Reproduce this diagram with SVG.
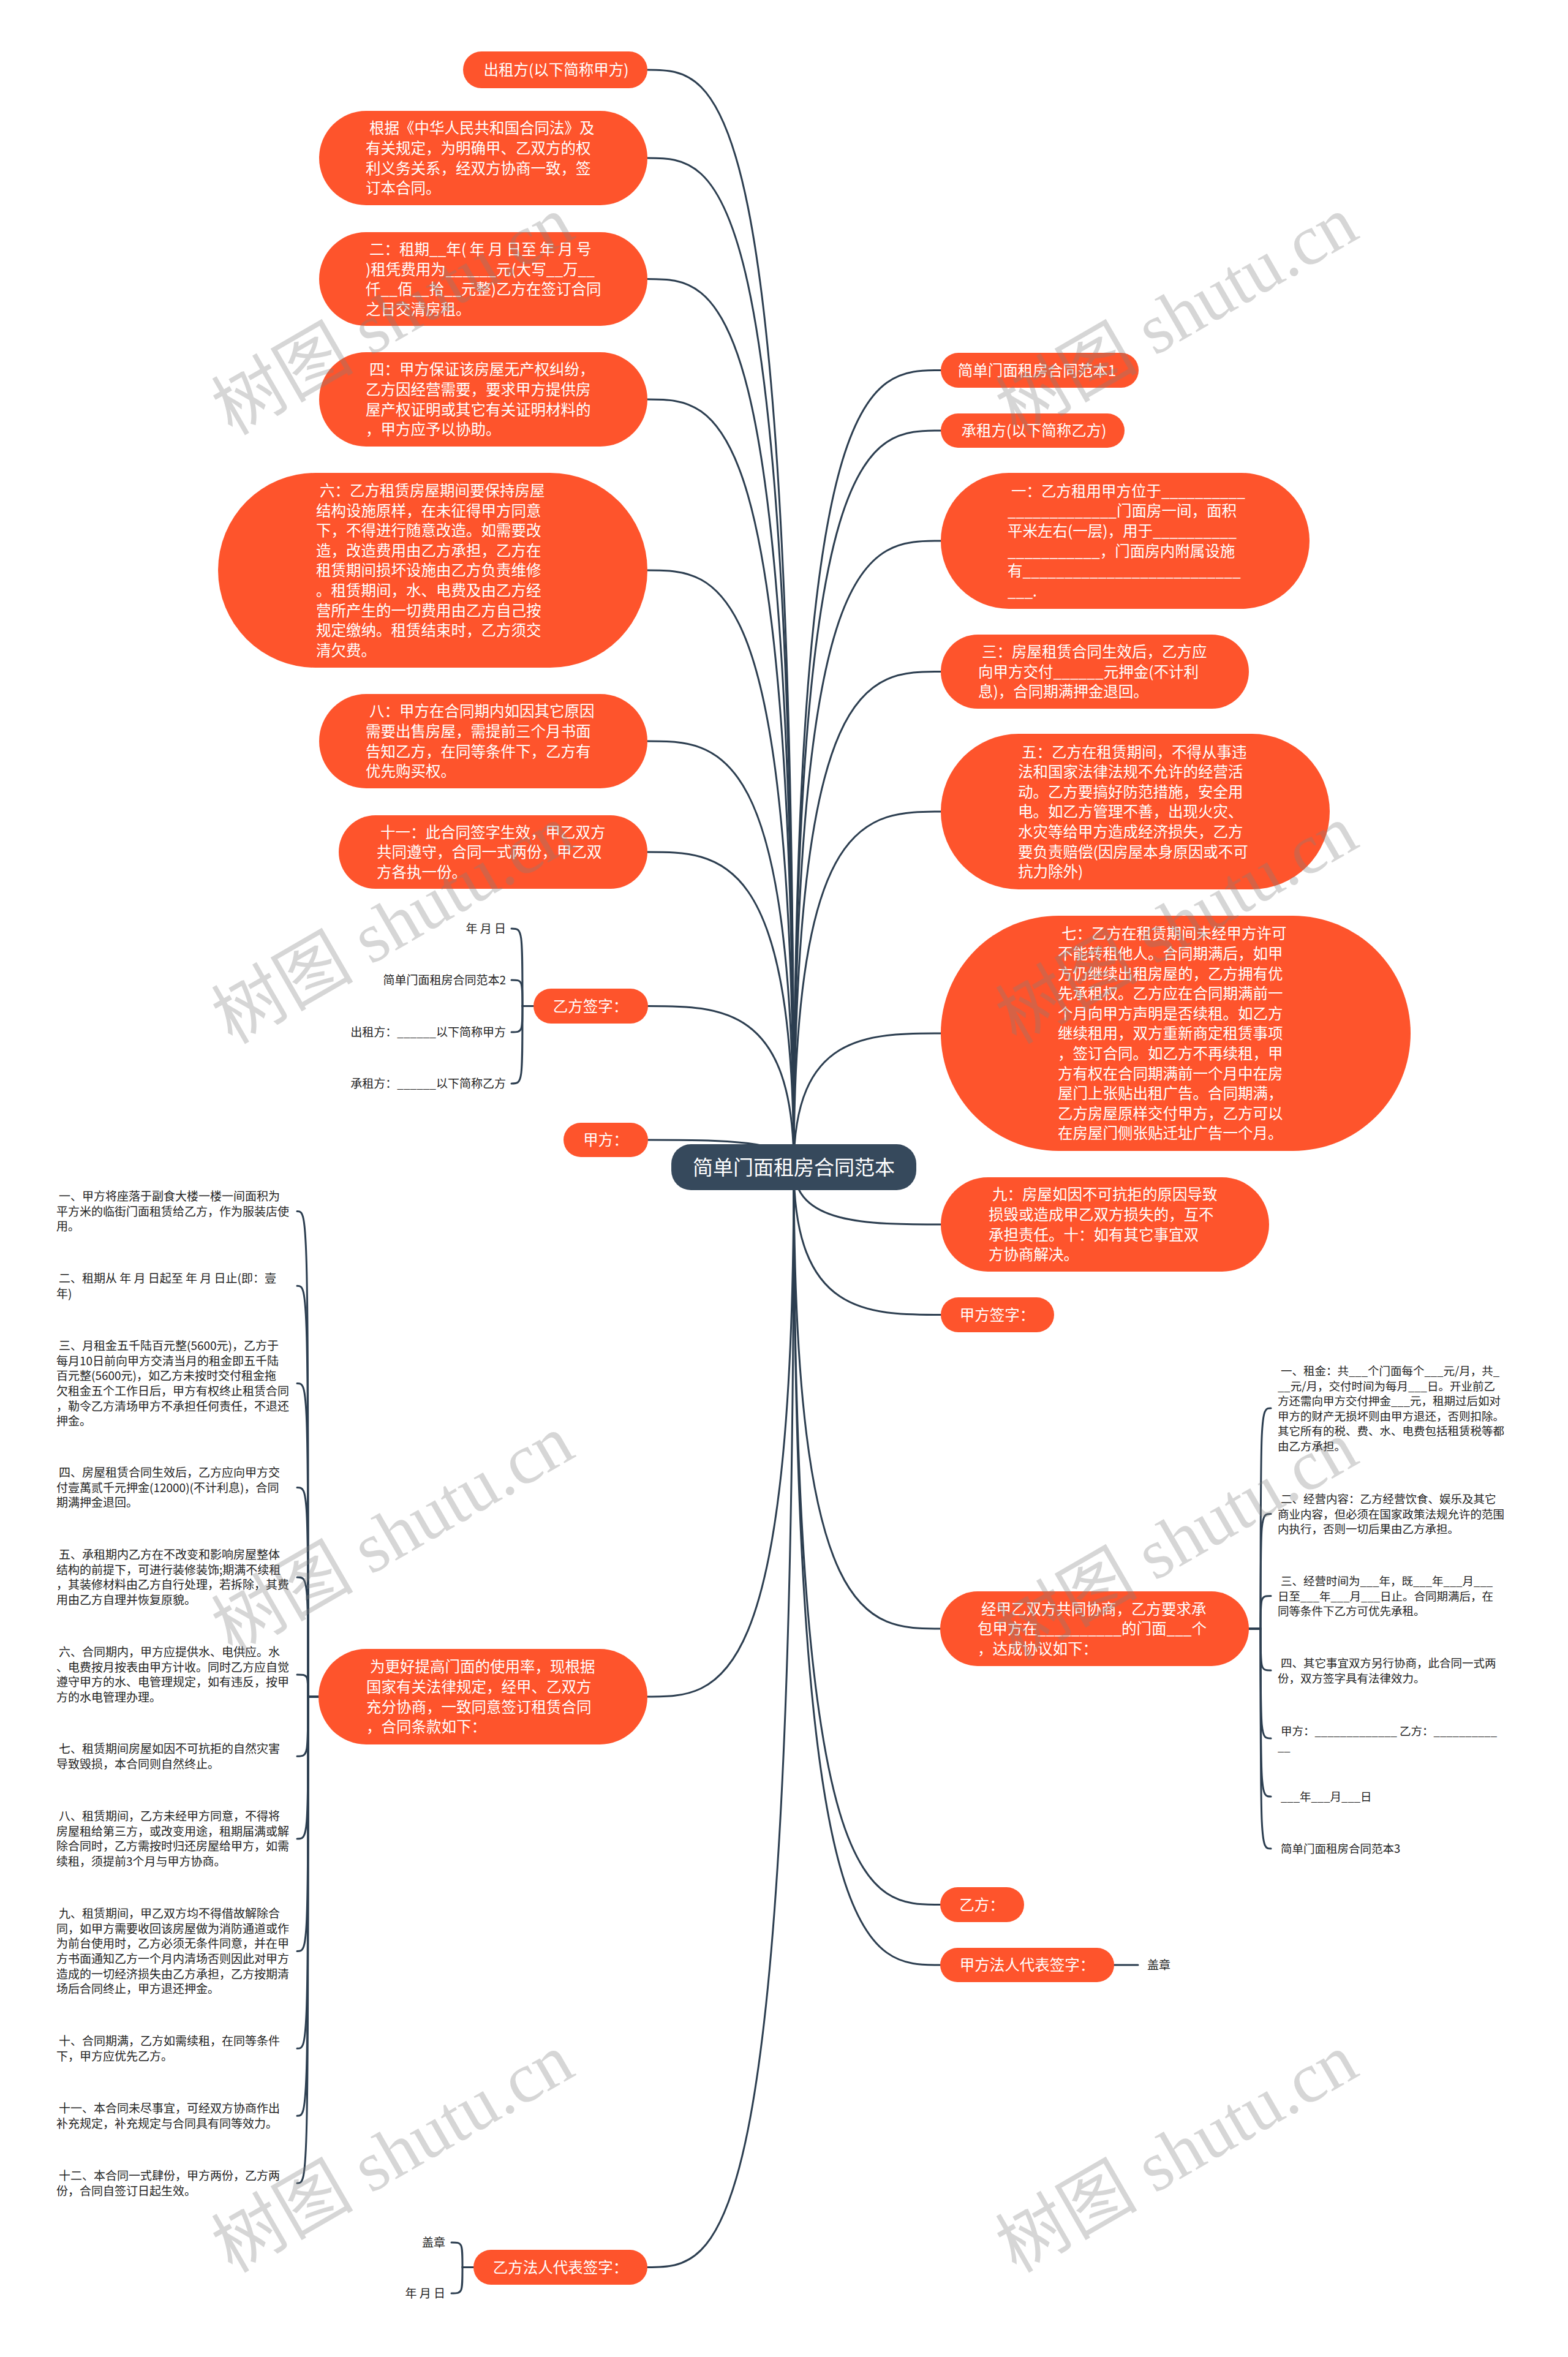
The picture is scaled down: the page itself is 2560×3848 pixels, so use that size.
<svg xmlns="http://www.w3.org/2000/svg" width="2560" height="3848" viewBox="0 0 2560 3848">
<style>
.o{fill:#fe542c}
.c{fill:#36495c}
.w{fill:#ffffff;font-family:"Noto Sans CJK SC","Noto Sans",sans-serif;font-size:24.5px}
.m{text-anchor:middle}
.r{text-anchor:end}
.k{fill:#222222;font-family:"Noto Sans CJK SC","Noto Sans",sans-serif;font-size:19px}
.s{font-size:18.5px}
.ln{fill:none;stroke:#2c3e50;stroke-width:3;stroke-linecap:round}
.wmk{fill:#808080;fill-opacity:0.32;font-family:"Liberation Serif","Noto Sans CJK SC",serif;font-size:116px}
</style>
<rect x="0" y="0" width="2560" height="3848" fill="#ffffff"/>
<g id="connectors">
<path class="ln" d="M1296,1905 C1296,114 1176,114 1057,114"/>
<path class="ln" d="M1296,1905 C1296,258 1176,258 1057,258"/>
<path class="ln" d="M1296,1905 C1296,455.5 1176,455.5 1057,455.5"/>
<path class="ln" d="M1296,1905 C1296,652 1176,652 1057,652"/>
<path class="ln" d="M1296,1905 C1296,931 1176,931 1057,931"/>
<path class="ln" d="M1296,1905 C1296,1210 1176,1210 1057,1210"/>
<path class="ln" d="M1296,1905 C1296,1391 1176,1391 1057,1391"/>
<path class="ln" d="M1296,1905 C1296,1642.5 1176,1642.5 1058,1642.5"/>
<path class="ln" d="M1296,1905 C1296,1861 1176,1861 1058,1861"/>
<path class="ln" d="M1296,1905 C1296,2770 1176,2770 1057,2770"/>
<path class="ln" d="M1296,1905 C1296,3701.5 1176,3701.5 1057,3701.5"/>
<path class="ln" d="M1296,1905 C1296,604.5 1416,604.5 1536,604.5"/>
<path class="ln" d="M1296,1905 C1296,703 1416,703 1536,703"/>
<path class="ln" d="M1296,1905 C1296,883 1416,883 1536,883"/>
<path class="ln" d="M1296,1905 C1296,1096.5 1416,1096.5 1536,1096.5"/>
<path class="ln" d="M1296,1905 C1296,1325 1416,1325 1536,1325"/>
<path class="ln" d="M1296,1905 C1296,1687 1416,1687 1536,1687"/>
<path class="ln" d="M1296,1905 C1296,1999 1416,1999 1536,1999"/>
<path class="ln" d="M1296,1905 C1296,2146.5 1416,2146.5 1536,2146.5"/>
<path class="ln" d="M1296,1905 C1296,2659 1416,2659 1535,2659"/>
<path class="ln" d="M1296,1905 C1296,3109.5 1416,3109.5 1535,3109.5"/>
<path class="ln" d="M1296,1905 C1296,3208 1416,3208 1535,3208"/>
<path class="ln" d="M871,1642.5 H853 C853,1516 853,1516 835,1516"/>
<path class="ln" d="M871,1642.5 H853 C853,1600 853,1600 835,1600"/>
<path class="ln" d="M871,1642.5 H853 C853,1685 853,1685 835,1685"/>
<path class="ln" d="M871,1642.5 H853 C853,1769 853,1769 835,1769"/>
<path class="ln" d="M520,2770 H503 C503,1977.6 503,1977.6 485,1977.6"/>
<path class="ln" d="M520,2770 H503 C503,2099.3 503,2099.3 485,2099.3"/>
<path class="ln" d="M520,2770 H503 C503,2258.5 503,2258.5 485,2258.5"/>
<path class="ln" d="M520,2770 H503 C503,2428.6 503,2428.6 485,2428.6"/>
<path class="ln" d="M520,2770 H503 C503,2574.9 503,2574.9 485,2574.9"/>
<path class="ln" d="M520,2770 H503 C503,2733.9 503,2733.9 485,2733.9"/>
<path class="ln" d="M520,2770 H503 C503,2867.3 503,2867.3 485,2867.3"/>
<path class="ln" d="M520,2770 H503 C503,3001.9 503,3001.9 485,3001.9"/>
<path class="ln" d="M520,2770 H503 C503,3185.5 503,3185.5 485,3185.5"/>
<path class="ln" d="M520,2770 H503 C503,3344.3 503,3344.3 485,3344.3"/>
<path class="ln" d="M520,2770 H503 C503,3454.3 503,3454.3 485,3454.3"/>
<path class="ln" d="M520,2770 H503 C503,3564.3 503,3564.3 485,3564.3"/>
<path class="ln" d="M2039,2659 H2058 C2058,2299 2058,2299 2075,2299"/>
<path class="ln" d="M2039,2659 H2058 C2058,2471.5 2058,2471.5 2075,2471.5"/>
<path class="ln" d="M2039,2659 H2058 C2058,2605.5 2058,2605.5 2075,2605.5"/>
<path class="ln" d="M2039,2659 H2058 C2058,2727 2058,2727 2075,2727"/>
<path class="ln" d="M2039,2659 H2058 C2058,2838 2058,2838 2075,2838"/>
<path class="ln" d="M2039,2659 H2058 C2058,2933 2058,2933 2075,2933"/>
<path class="ln" d="M2039,2659 H2058 C2058,3018 2058,3018 2075,3018"/>
<path class="ln" d="M1819,3208 H1858"/>
<path class="ln" d="M773,3701.5 H755 C755,3661 755,3661 737,3661"/>
<path class="ln" d="M773,3701.5 H755 C755,3744 755,3744 737,3744"/>
</g>
<g id="n-root">
<rect class="c" x="1096" y="1868" width="400" height="75" rx="32"/>
<text x="1296" y="1918" class="w m" style="font-size:33px">简单门面租房合同范本</text>
</g>
<g id="n1">
<rect class="o" x="756" y="84" width="301" height="60" rx="30"/>
<text x="908" y="123.3" class="w m">出租方(以下简称甲方)</text>
</g>
<g id="n2">
<rect class="o" x="521" y="181" width="536" height="154" rx="77"/>
<text class="w"><tspan x="603" y="218.4">根据《中华人民共和国合同法》及</tspan><tspan x="597" y="251">有关规定，为明确甲、乙双方的权</tspan><tspan x="597" y="283.6">利义务关系，经双方协商一致，签</tspan><tspan x="597" y="316.2">订本合同。</tspan></text>
</g>
<g id="n3">
<rect class="o" x="521" y="379" width="536" height="153" rx="76.5"/>
<text class="w"><tspan x="603" y="415.9">二：租期__年( 年 月 日至 年 月 号</tspan><tspan x="597" y="448.5">)租凭费用为______元(大写__万__</tspan><tspan x="597" y="481.1">仟__佰__拾__元整)乙方在签订合同</tspan><tspan x="597" y="513.7">之日交清房租。</tspan></text>
</g>
<g id="n4">
<rect class="o" x="521" y="575" width="536" height="154" rx="77"/>
<text class="w"><tspan x="603" y="612.4">四：甲方保证该房屋无产权纠纷，</tspan><tspan x="597" y="645">乙方因经营需要，要求甲方提供房</tspan><tspan x="597" y="677.6">屋产权证明或其它有关证明材料的</tspan><tspan x="597" y="710.2">，甲方应予以协助。</tspan></text>
</g>
<g id="n5">
<rect class="o" x="356" y="772" width="701" height="318" rx="159"/>
<text class="w"><tspan x="522" y="809.9">六：乙方租赁房屋期间要保持房屋</tspan><tspan x="516" y="842.5">结构设施原样，在未征得甲方同意</tspan><tspan x="516" y="875.1">下，不得进行随意改造。如需要改</tspan><tspan x="516" y="907.7">造，改造费用由乙方承担，乙方在</tspan><tspan x="516" y="940.3">租赁期间损坏设施由乙方负责维修</tspan><tspan x="516" y="972.9">。租赁期间，水、电费及由乙方经</tspan><tspan x="516" y="1005.5">营所产生的一切费用由乙方自己按</tspan><tspan x="516" y="1038.1">规定缴纳。租赁结束时，乙方须交</tspan><tspan x="516" y="1070.7">清欠费。</tspan></text>
</g>
<g id="n6">
<rect class="o" x="521" y="1133" width="536" height="154" rx="77"/>
<text class="w"><tspan x="603" y="1170.4">八：甲方在合同期内如因其它原因</tspan><tspan x="597" y="1203">需要出售房屋，需提前三个月书面</tspan><tspan x="597" y="1235.6">告知乙方，在同等条件下，乙方有</tspan><tspan x="597" y="1268.2">优先购买权。</tspan></text>
</g>
<g id="n7">
<rect class="o" x="553" y="1331" width="504" height="120" rx="60"/>
<text class="w"><tspan x="621" y="1367.7">十一：此合同签字生效，甲乙双方</tspan><tspan x="615" y="1400.3">共同遵守，合同一式两份，甲乙双</tspan><tspan x="615" y="1432.9">方各执一份。</tspan></text>
</g>
<g id="n8">
<rect class="o" x="871" y="1614" width="187" height="57" rx="28.5"/>
<text x="964" y="1651.8" class="w m">乙方签字：</text>
</g>
<g id="n8-children">
<text x="826" y="1523" class="k r">年 月 日</text>
<text x="826" y="1607" class="k r">简单门面租房合同范本2</text>
<text x="826" y="1692" class="k r">出租方：______以下简称甲方</text>
<text x="826" y="1776" class="k r">承租方：______以下简称乙方</text>
</g>
<g id="n9">
<rect class="o" x="920" y="1833" width="138" height="56" rx="28"/>
<text x="989" y="1870.3" class="w m">甲方：</text>
</g>
<g id="n10">
<rect class="o" x="1536" y="576" width="323" height="57" rx="28.5"/>
<text x="1693" y="613.8" class="w m">简单门面租房合同范本1</text>
</g>
<g id="n11">
<rect class="o" x="1536" y="675" width="300" height="56" rx="28"/>
<text x="1688" y="712.3" class="w m">承租方(以下简称乙方)</text>
</g>
<g id="n12">
<rect class="o" x="1536" y="772" width="602" height="222" rx="111"/>
<text class="w"><tspan x="1651" y="810.8">一：乙方租用甲方位于__________</tspan><tspan x="1645" y="843.4">_____________门面房一间，面积</tspan><tspan x="1645" y="876">平米左右(一层)，用于__________</tspan><tspan x="1645" y="908.6">___________，门面房内附属设施</tspan><tspan x="1645" y="941.2">有__________________________</tspan><tspan x="1645" y="973.8">___.</tspan></text>
</g>
<g id="n13">
<rect class="o" x="1536" y="1036" width="503" height="121" rx="60.5"/>
<text class="w"><tspan x="1603" y="1073.2">三：房屋租赁合同生效后，乙方应</tspan><tspan x="1597" y="1105.8">向甲方交付______元押金(不计利</tspan><tspan x="1597" y="1138.4">息)，合同期满押金退回。</tspan></text>
</g>
<g id="n14">
<rect class="o" x="1536" y="1198" width="635" height="254" rx="127"/>
<text class="w"><tspan x="1668" y="1236.5">五：乙方在租赁期间，不得从事违</tspan><tspan x="1662" y="1269.1">法和国家法律法规不允许的经营活</tspan><tspan x="1662" y="1301.7">动。乙方要搞好防范措施，安全用</tspan><tspan x="1662" y="1334.3">电。如乙方管理不善，出现火灾、</tspan><tspan x="1662" y="1366.9">水灾等给甲方造成经济损失，乙方</tspan><tspan x="1662" y="1399.5">要负责赔偿(因房屋本身原因或不可</tspan><tspan x="1662" y="1432.1">抗力除外)</tspan></text>
</g>
<g id="n15">
<rect class="o" x="1536" y="1495" width="767" height="384" rx="192"/>
<text class="w"><tspan x="1733" y="1533.3">七：乙方在租赁期间未经甲方许可</tspan><tspan x="1727" y="1565.9">不能转租他人。合同期满后，如甲</tspan><tspan x="1727" y="1598.5">方仍继续出租房屋的，乙方拥有优</tspan><tspan x="1727" y="1631.1">先承租权。乙方应在合同期满前一</tspan><tspan x="1727" y="1663.7">个月向甲方声明是否续租。如乙方</tspan><tspan x="1727" y="1696.3">继续租用，双方重新商定租赁事项</tspan><tspan x="1727" y="1728.9">，签订合同。如乙方不再续租，甲</tspan><tspan x="1727" y="1761.5">方有权在合同期满前一个月中在房</tspan><tspan x="1727" y="1794.1">屋门上张贴出租广告。合同期满，</tspan><tspan x="1727" y="1826.7">乙方房屋原样交付甲方，乙方可以</tspan><tspan x="1727" y="1859.3">在房屋门侧张贴迁址广告一个月。</tspan></text>
</g>
<g id="n16">
<rect class="o" x="1536" y="1922" width="536" height="154" rx="77"/>
<text class="w"><tspan x="1620" y="1959.4">九：房屋如因不可抗拒的原因导致</tspan><tspan x="1614" y="1992">损毁或造成甲乙双方损失的，互不</tspan><tspan x="1614" y="2024.6">承担责任。十：如有其它事宜双</tspan><tspan x="1614" y="2057.2">方协商解决。</tspan></text>
</g>
<g id="n17">
<rect class="o" x="1536" y="2118" width="185" height="57" rx="28.5"/>
<text x="1628" y="2155.8" class="w m">甲方签字：</text>
</g>
<g id="n18">
<rect class="o" x="1535" y="2598" width="504" height="122" rx="61"/>
<text class="w"><tspan x="1602" y="2635.7">经甲乙双方共同协商，乙方要求承</tspan><tspan x="1596" y="2668.3">包甲方在__________的门面___个</tspan><tspan x="1596" y="2700.9">，达成协议如下：</tspan></text>
</g>
<g id="n18-children">
<text class="k s"><tspan x="2091" y="2245">一、租金：共___个门面每个___元/月，共_</tspan><tspan x="2086" y="2269.5">__元/月，交付时间为每月___日。开业前乙</tspan><tspan x="2086" y="2294">方还需向甲方交付押金___元，租期过后如对</tspan><tspan x="2086" y="2318.5">甲方的财产无损坏则由甲方退还，否则扣除。</tspan><tspan x="2086" y="2343">其它所有的税、费、水、电费包括租赁税等都</tspan><tspan x="2086" y="2367.5">由乙方承担。</tspan></text>
<text class="k s"><tspan x="2091" y="2454">二、经营内容：乙方经营饮食、娱乐及其它</tspan><tspan x="2086" y="2478.5">商业内容，但必须在国家政策法规允许的范围</tspan><tspan x="2086" y="2503">内执行，否则一切后果由乙方承担。</tspan></text>
<text class="k s"><tspan x="2091" y="2588">三、经营时间为___年，既___年___月___</tspan><tspan x="2086" y="2612.5">日至___年___月___日止。合同期满后，在</tspan><tspan x="2086" y="2637">同等条件下乙方可优先承租。</tspan></text>
<text class="k s"><tspan x="2091" y="2722">四、其它事宜双方另行协商，此合同一式两</tspan><tspan x="2086" y="2746.5">份，双方签字具有法律效力。</tspan></text>
<text class="k s"><tspan x="2091" y="2833">甲方：_____________ 乙方：__________</tspan><tspan x="2086" y="2857.5">__</tspan></text>
<text class="k s" x="2091" y="2940">___年___月___日</text>
<text class="k s" x="2091" y="3025">简单门面租房合同范本3</text>
</g>
<g id="n19">
<rect class="o" x="1535" y="3081" width="137" height="57" rx="28.5"/>
<text x="1603" y="3118.8" class="w m">乙方：</text>
</g>
<g id="n20">
<rect class="o" x="1535" y="3180" width="284" height="56" rx="28"/>
<text x="1677" y="3217.3" class="w m">甲方法人代表签字：</text>
</g>
<g id="n20-child">
<text x="1873" y="3215" class="k">盖章</text>
</g>
<g id="n21">
<rect class="o" x="520" y="2692" width="537" height="156" rx="78"/>
<text class="w"><tspan x="604" y="2730.4">为更好提高门面的使用率，现根据</tspan><tspan x="598" y="2763">国家有关法律规定，经甲、乙双方</tspan><tspan x="598" y="2795.6">充分协商，一致同意签订租赁合同</tspan><tspan x="598" y="2828.2">，合同条款如下：</tspan></text>
</g>
<g id="n21-children">
<text class="k"><tspan x="96" y="1960.2">一、甲方将座落于副食大楼一楼一间面积为</tspan><tspan x="92" y="1984.8">平方米的临街门面租赁给乙方，作为服装店使</tspan><tspan x="92" y="2009.4">用。</tspan></text>
<text class="k"><tspan x="96" y="2094.2">二、租期从 年 月 日起至 年 月 日止(即：壹</tspan><tspan x="92" y="2118.8">年)</tspan></text>
<text class="k"><tspan x="96" y="2204.2">三、月租金五千陆百元整(5600元)，乙方于</tspan><tspan x="92" y="2228.8">每月10日前向甲方交清当月的租金即五千陆</tspan><tspan x="92" y="2253.4">百元整(5600元)，如乙方未按时交付租金拖</tspan><tspan x="92" y="2278">欠租金五个工作日后，甲方有权终止租赁合同</tspan><tspan x="92" y="2302.6">，勒令乙方清场甲方不承担任何责任，不退还</tspan><tspan x="92" y="2327.2">押金。</tspan></text>
<text class="k"><tspan x="96" y="2411.2">四、房屋租赁合同生效后，乙方应向甲方交</tspan><tspan x="92" y="2435.8">付壹萬贰千元押金(12000)(不计利息)，合同</tspan><tspan x="92" y="2460.4">期满押金退回。</tspan></text>
<text class="k"><tspan x="96" y="2545.2">五、承租期内乙方在不改变和影响房屋整体</tspan><tspan x="92" y="2569.8">结构的前提下，可进行装修装饰;期满不续租</tspan><tspan x="92" y="2594.4">，其装修材料由乙方自行处理，若拆除，其费</tspan><tspan x="92" y="2619">用由乙方自理并恢复原貌。</tspan></text>
<text class="k"><tspan x="96" y="2704.2">六、合同期内，甲方应提供水、电供应。水</tspan><tspan x="92" y="2728.8">、电费按月按表由甲方计收。同时乙方应自觉</tspan><tspan x="92" y="2753.4">遵守甲方的水、电管理规定，如有违反，按甲</tspan><tspan x="92" y="2778">方的水电管理办理。</tspan></text>
<text class="k"><tspan x="96" y="2862.2">七、租赁期间房屋如因不可抗拒的自然灾害</tspan><tspan x="92" y="2886.8">导致毁损，本合同则自然终止。</tspan></text>
<text class="k"><tspan x="96" y="2972.2">八、租赁期间，乙方未经甲方同意，不得将</tspan><tspan x="92" y="2996.8">房屋租给第三方，或改变用途，租期届满或解</tspan><tspan x="92" y="3021.4">除合同时，乙方需按时归还房屋给甲方，如需</tspan><tspan x="92" y="3046">续租，须提前3个月与甲方协商。</tspan></text>
<text class="k"><tspan x="96" y="3131.2">九、租赁期间，甲乙双方均不得借故解除合</tspan><tspan x="92" y="3155.8">同，如甲方需要收回该房屋做为消防通道或作</tspan><tspan x="92" y="3180.4">为前台使用时，乙方必须无条件同意，并在甲</tspan><tspan x="92" y="3205">方书面通知乙方一个月内清场否则因此对甲方</tspan><tspan x="92" y="3229.6">造成的一切经济损失由乙方承担，乙方按期清</tspan><tspan x="92" y="3254.2">场后合同终止，甲方退还押金。</tspan></text>
<text class="k"><tspan x="96" y="3339.2">十、合同期满，乙方如需续租，在同等条件</tspan><tspan x="92" y="3363.8">下，甲方应优先乙方。</tspan></text>
<text class="k"><tspan x="96" y="3449.2">十一、本合同未尽事宜，可经双方协商作出</tspan><tspan x="92" y="3473.8">补充规定，补充规定与合同具有同等效力。</tspan></text>
<text class="k"><tspan x="96" y="3559.2">十二、本合同一式肆份，甲方两份，乙方两</tspan><tspan x="92" y="3583.8">份，合同自签订日起生效。</tspan></text>
</g>
<g id="n22">
<rect class="o" x="773" y="3673" width="284" height="57" rx="28.5"/>
<text x="915" y="3710.8" class="w m">乙方法人代表签字：</text>
</g>
<g id="n22-children">
<text x="727" y="3668" class="k r">盖章</text>
<text x="727" y="3751" class="k r">年 月 日</text>
</g>
<g id="watermark">
<text class="wmk" transform="translate(379,712) rotate(-30)">树图 shutu.cn</text>
<text class="wmk" transform="translate(1659,712) rotate(-30)">树图 shutu.cn</text>
<text class="wmk" transform="translate(379,1706) rotate(-30)">树图 shutu.cn</text>
<text class="wmk" transform="translate(1659,1706) rotate(-30)">树图 shutu.cn</text>
<text class="wmk" transform="translate(379,2702) rotate(-30)">树图 shutu.cn</text>
<text class="wmk" transform="translate(1659,2712) rotate(-30)">树图 shutu.cn</text>
<text class="wmk" transform="translate(379,3712) rotate(-30)">树图 shutu.cn</text>
<text class="wmk" transform="translate(1659,3712) rotate(-30)">树图 shutu.cn</text>
</g>
</svg>
